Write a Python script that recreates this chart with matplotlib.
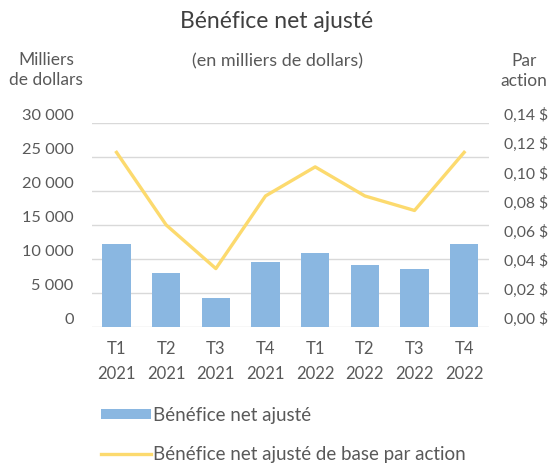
import numpy as np
import matplotlib
matplotlib.use('Agg')
import matplotlib.pyplot as plt
from matplotlib.ticker import FuncFormatter

plt.rcParams['font.family'] = ['Lato', 'DejaVu Sans']

# Data
quarters = ['T1\n2021', 'T2\n2021', 'T3\n2021', 'T4\n2021',
            'T1\n2022', 'T2\n2022', 'T3\n2022', 'T4\n2022']
benefice = [12200, 7900, 4300, 9600, 10900, 9100, 8500, 12200]
bpa = [0.12, 0.07, 0.04, 0.09, 0.11, 0.09, 0.08, 0.12]

bar_color = '#8AB7E1'
line_color = '#FCDA6E'
text_color = '#595959'

fig = plt.figure(figsize=(5.54, 4.66), dpi=100)
ax = fig.add_axes([91.7 / 554, 1 - 326.7 / 466, (489 - 91.7) / 554, (326.7 - 123.3) / 466])

x = np.arange(len(quarters))
bars = ax.bar(x, benefice, width=0.57, color=bar_color, zorder=2,
              label='Bénéfice net ajusté')
ax.set_xlim(-0.5, len(quarters) - 0.5)
ax.set_ylim(0, 30000)
ax.set_yticks(np.arange(0, 30001, 5000))
ax.yaxis.set_major_formatter(FuncFormatter(lambda v, p: f'{int(v):,}'.replace(',', ' ')))
ax.grid(axis='y', color='#D9D9D9', linewidth=1, zorder=0)
ax.set_axisbelow(True)
ax.set_xticks(x)
ax.set_xticklabels(quarters, linespacing=1.7)
ax.tick_params(axis='x', length=0, pad=10, labelsize=12, colors=text_color)
ax.tick_params(axis='y', length=0, pad=13, labelsize=11.8, colors=text_color)
for s in ax.spines.values():
    s.set_visible(False)

ax2 = ax.twinx()
line, = ax2.plot(x, bpa, color=line_color, linewidth=2.4, zorder=3,
                 label='Bénéfice net ajusté de base par action')
ax2.set_ylim(0, 0.14)
ax2.set_yticks(np.arange(0, 0.141, 0.02))
ax2.yaxis.set_major_formatter(FuncFormatter(lambda v, p: f'{v:.2f} $'.replace('.', ',')))
ax2.tick_params(axis='y', length=0, pad=11, labelsize=11.3, colors=text_color)
for s in ax2.spines.values():
    s.set_visible(False)

plt.setp(ax.get_yticklabels(), va='bottom')
plt.setp(ax2.get_yticklabels(), va='bottom')

fig.text(0.5, 1 - 22 / 466, 'Bénéfice net ajusté', ha='center', va='center',
         fontsize=16.5, color='#404040')
fig.text(277 / 554, 1 - 61 / 466, '(en milliers de dollars)', ha='center', va='center',
         fontsize=13, color=text_color)
fig.text(46 / 554, 1 - 70 / 466, 'Milliers\nde dollars', ha='center', va='center',
         fontsize=12.5, color=text_color, linespacing=1.25)
fig.text(524 / 554, 1 - 71 / 466, 'Par\naction', ha='center', va='center',
         fontsize=12.5, color=text_color, linespacing=1.25)

fig.legend(handles=[bars, line], loc='upper left',
           bbox_to_anchor=(93 / 554, 1 - 399 / 466), frameon=False,
           fontsize=13.5, handlelength=2.7, handleheight=0.5, handletextpad=0.1,
           labelspacing=1.2, labelcolor=text_color, borderaxespad=0)

fig.savefig('out.png', dpi=100)
